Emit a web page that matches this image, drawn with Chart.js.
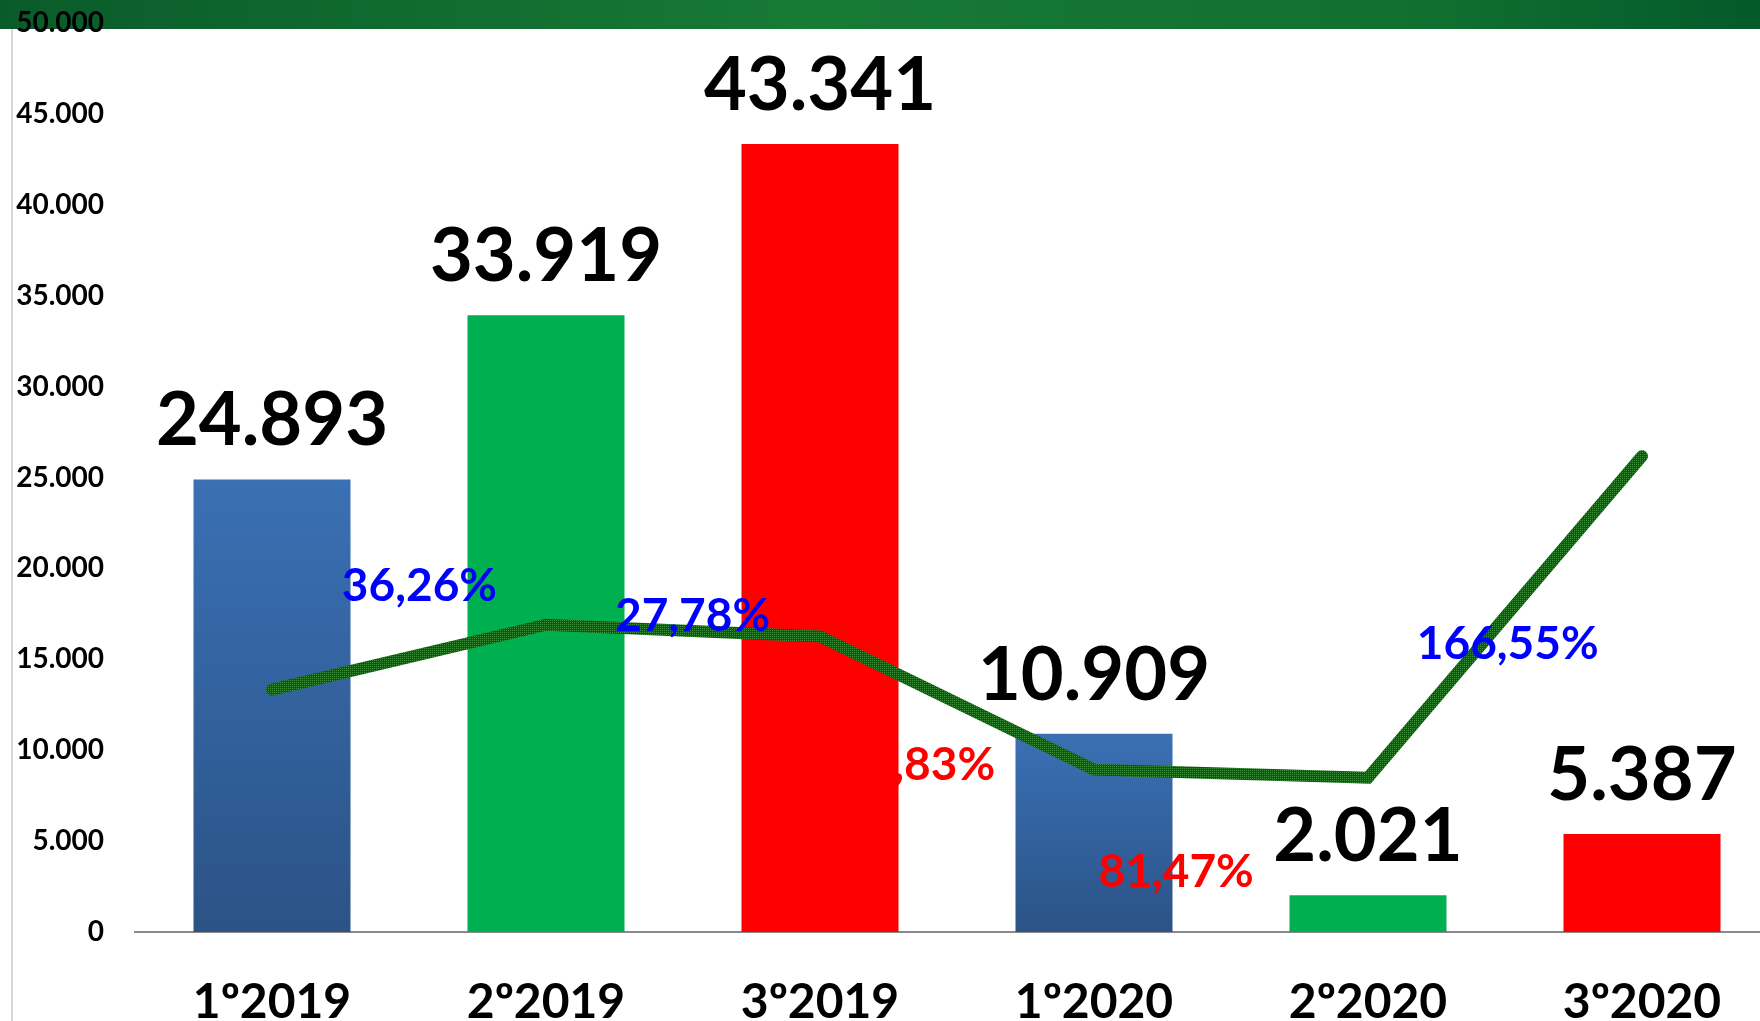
<!DOCTYPE html>
<html>
<head>
<meta charset="utf-8">
<script src="https://cdn.jsdelivr.net/npm/chart.js@4.4.1/dist/chart.umd.min.js"></script>
<style>
    html, body { margin: 0; padding: 0; background: #fff; overflow: hidden; }
    #chart { display: block; }
</style>
</head>
<body>
<canvas id="chart" width="1780" height="1021"></canvas>
<script>
// Data
const periods = ['1º2019', '2º2019', '3º2019', '1º2020', '2º2020', '3º2020'];
const totals = [24893, 33919, 43341, 10909, 2021, 5387];
const trend = [13330, 16900, 16260, 8930, 8490, 26170];
const yTicks = { min: 0, max: 50000, step: 5000 };

// Where the % change labels sit (category index, y value)
const changeLabelPos = [
    [0.538, 18185],
    [1.535, 16535],
    [2.356, 8340],
    [3.300, 2490],
    [4.510, 15030]
];

const FONT = 'Lato';

function formatThousands(v) {
    return String(Math.round(v)).replace(/\B(?=(\d{3})+(?!\d))/g, '.');
}

// Percentage change between consecutive periods
const changes = totals.slice(1).map((v, i) => (v / totals[i] - 1) * 100);

// Bar colours: blue (gradient), green, red repeating
function barColor(ctx) {
    const i = ctx.dataIndex;
    const kind = i % 3;
    if (kind === 1) return '#00b050';
    if (kind === 2) return '#ff0000';
    const chart = ctx.chart;
    if (!chart.chartArea) return '#3263a0';
    const y = chart.scales.y;
    const top = y.getPixelForValue(totals[i]);
    const bottom = y.getPixelForValue(0);
    const g = chart.ctx.createLinearGradient(0, top, 0, bottom);
    g.addColorStop(0, '#3a70b4');
    g.addColorStop(1, '#2b5386');
    return g;
}

// Speckled dark green texture for the line
function linePattern() {
    const c = document.createElement('canvas');
    c.width = 2; c.height = 2;
    const p = c.getContext('2d');
    p.fillStyle = '#006200'; p.fillRect(0, 0, 2, 2);
    p.fillStyle = '#3f8f3f'; p.fillRect(0, 0, 1, 1);
    return document.getElementById('chart').getContext('2d').createPattern(c, 'repeat');
}

// Background: green banner and thin frame line
const backdrop = {
    id: 'backdrop',
    beforeDraw(chart) {
        const ctx = chart.ctx;
        const w = chart.width;
        ctx.save();
        const g = ctx.createLinearGradient(0, 0, w, 0);
        g.addColorStop(0, '#0a5b2a');
        g.addColorStop(0.45, '#177a35');
        g.addColorStop(0.8, '#117030');
        g.addColorStop(1, '#03582a');
        ctx.fillStyle = g;
        ctx.fillRect(0, 0, w, 29);
        ctx.strokeStyle = '#d6d6d6';
        ctx.lineWidth = 2;
        ctx.beginPath();
        ctx.moveTo(12, 29);
        ctx.lineTo(12, chart.height);
        ctx.stroke();
        ctx.restore();
    }
};

// Value labels above bars and % change labels
const labels = {
    id: 'labels',
    afterDatasetsDraw(chart) {
        const ctx = chart.ctx;
        const x = chart.scales.x;
        const y = chart.scales.y;
        const barMeta = chart.getDatasetMeta(1);
        ctx.save();
        ctx.textAlign = 'center';
        ctx.textBaseline = 'alphabetic';

        ctx.fillStyle = '#000';
        ctx.font = 'bold 74px ' + FONT;
        barMeta.data.forEach((bar, i) => {
            ctx.fillText(formatThousands(totals[i]), bar.x, bar.y - 34);
        });

        ctx.font = 'bold 46px ' + FONT;
        changes.forEach((c, i) => {
            const pos = changeLabelPos[i];
            ctx.fillStyle = c >= 0 ? '#0000ff' : '#ff0000';
            const txt = Math.abs(c).toFixed(2).replace('.', ',') + '%';
            ctx.fillText(txt, x.getPixelForValue(pos[0]), y.getPixelForValue(pos[1]));
        });
        ctx.restore();
    }
};

new Chart(document.getElementById('chart'), {
    data: {
        labels: periods,
        datasets: [
            {
                type: 'line',
                data: trend,
                borderColor: linePattern(),
                borderWidth: 12,
                borderCapStyle: 'round',
                borderJoinStyle: 'miter',
                pointRadius: 0,
                tension: 0,
                fill: false,
                order: 0
            },
            {
                type: 'bar',
                data: totals,
                backgroundColor: barColor,
                borderWidth: 0,
                categoryPercentage: 1,
                barPercentage: 0.573,
                order: 1
            }
        ]
    },
    options: {
        responsive: false,
        animation: false,
        layout: { padding: { top: 23, right: 1, bottom: 0, left: 0 } },
        plugins: {
            legend: { display: false },
            tooltip: { enabled: false }
        },
        scales: {
            x: {
                offset: true,
                grid: { display: false, drawTicks: false },
                border: { display: true, color: '#898989', width: 2 },
                ticks: {
                    color: '#000',
                    font: { family: FONT, size: 48, weight: 'bold' },
                    padding: 42,
                    maxRotation: 0,
                    autoSkip: false
                },
                afterFit: s => { s.height = 89; }
            },
            y: {
                min: yTicks.min,
                max: yTicks.max,
                grid: { display: false, drawTicks: false },
                border: { display: false },
                ticks: {
                    stepSize: yTicks.step,
                    color: '#000',
                    font: { family: FONT, size: 28, weight: 'bold' },
                    padding: 31,
                    callback: v => formatThousands(v)
                },
                afterFit: s => {
                    s.width = 135;
                    s.paddingTop = 0;
                    s.paddingBottom = 0;
                }
            }
        }
    },
    plugins: [backdrop, labels]
});
</script>
</body>
</html>
